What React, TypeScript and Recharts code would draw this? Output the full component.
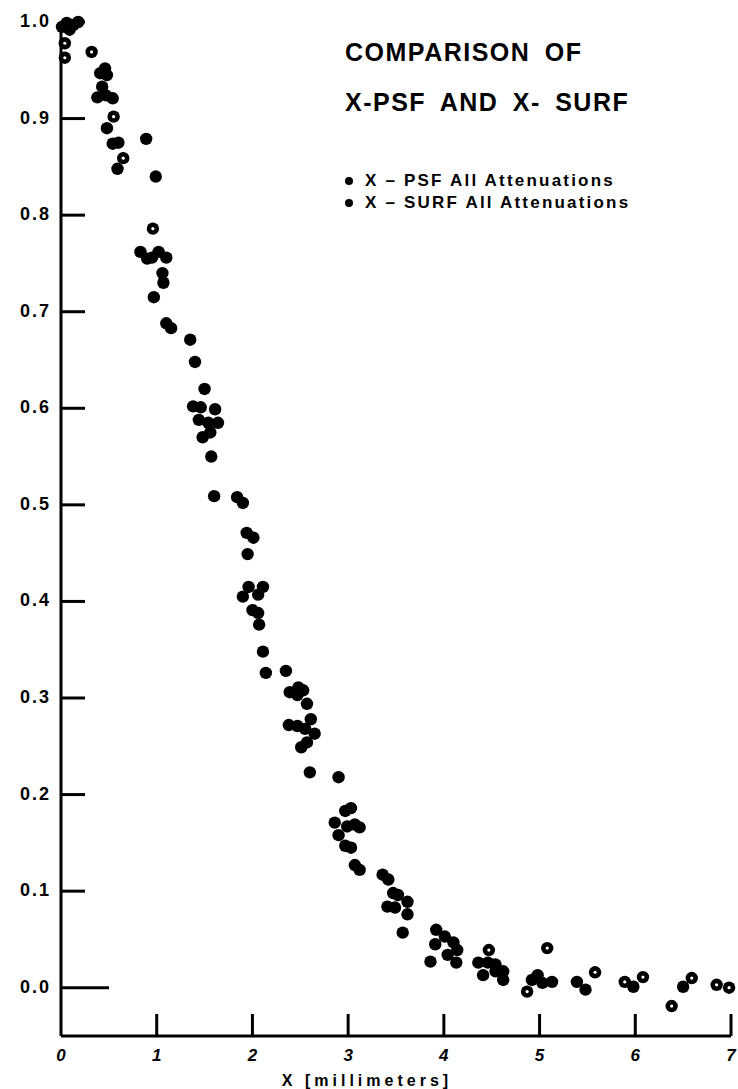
import { ScatterChart, Scatter, XAxis, YAxis, Legend } from 'recharts'

// ============================================
// Data
// ============================================

// points drawn with a small open centre
const psfX = [0.04, 0.04, 0.32, 0.55, 0.65, 0.96, 4.47, 5.08, 4.87, 5.58, 5.89, 6.08, 6.38, 6.59, 6.85, 6.98]
const psfY = [0.978, 0.963, 0.969, 0.902, 0.859, 0.786, 0.039, 0.041, -0.004, 0.016, 0.006, 0.011, -0.019, 0.01, 0.003, 0.0]

// solid points
const surfX = [
  0.01, 0.06, 0.13, 0.18, 0.09, 0.41, 0.46, 0.48, 0.43, 0.38, 0.54, 0.47, 0.48, 0.54, 0.6, 0.59,
  0.89, 0.99, 0.83, 0.9, 0.95, 1.02, 1.1, 1.06, 1.07, 0.97, 1.1, 1.15, 1.35, 1.4, 1.5, 1.38,
  1.46, 1.61, 1.44, 1.54, 1.64, 1.48, 1.56, 1.57, 1.6, 1.84, 1.9, 1.94, 2.01, 1.95, 1.96, 2.11,
  1.9, 2.06, 2.0, 2.06, 2.07, 2.11, 2.14, 2.35, 2.39, 2.48, 2.53, 2.47, 2.57, 2.61, 2.38, 2.47,
  2.55, 2.65, 2.51, 2.57, 2.6, 2.9, 2.97, 3.03, 2.86, 2.99, 3.07, 3.12, 2.9, 2.97, 3.03, 3.07,
  3.12, 3.36, 3.42, 3.47, 3.52, 3.62, 3.41, 3.49, 3.62, 3.57, 3.92, 4.01, 4.1, 3.91, 4.04, 4.14,
  3.86, 4.13, 4.36, 4.46, 4.54, 4.41, 4.62, 4.62, 4.54, 4.92, 4.98, 5.03, 5.13, 5.39, 5.48, 5.98,
  6.5,
]
const surfY = [
  0.995, 0.999, 0.997, 1.0, 0.992, 0.947, 0.952, 0.945, 0.933, 0.922, 0.921, 0.924, 0.89, 0.874, 0.875, 0.848,
  0.879, 0.84, 0.762, 0.755, 0.756, 0.762, 0.756, 0.74, 0.73, 0.715, 0.688, 0.683, 0.671, 0.648, 0.62, 0.602,
  0.601, 0.599, 0.588, 0.585, 0.585, 0.57, 0.575, 0.55, 0.509, 0.508, 0.502, 0.471, 0.466, 0.449, 0.415, 0.415,
  0.405, 0.407, 0.391, 0.388, 0.376, 0.348, 0.326, 0.328, 0.306, 0.311, 0.308, 0.303, 0.294, 0.278, 0.272, 0.271,
  0.268, 0.263, 0.249, 0.254, 0.223, 0.218, 0.183, 0.186, 0.171, 0.167, 0.169, 0.166, 0.158, 0.147, 0.145, 0.127,
  0.122, 0.117, 0.112, 0.098, 0.096, 0.089, 0.084, 0.083, 0.076, 0.057, 0.06, 0.053, 0.047, 0.045, 0.034, 0.039,
  0.027, 0.026, 0.026, 0.026, 0.024, 0.013, 0.017, 0.008, 0.017, 0.008, 0.013, 0.005, 0.006, 0.006, -0.002, 0.001,
  0.001,
]

const xTicks = [0, 1, 2, 3, 4, 5, 6, 7]
const yTicks = [0, 0.1, 0.2, 0.3, 0.4, 0.5, 0.6, 0.7, 0.8, 0.9, 1.0]
const legendLabels = ['X \u2013 PSF All Attenuations', 'X \u2013 SURF All Attenuations']

const psfData = psfX.map((x, i) => ({ x, y: psfY[i] }))
const surfData = surfX.map((x, i) => ({ x, y: surfY[i] }))

const FONT = '"Liberation Sans", Arial, sans-serif'

// ============================================
// Custom ticks (tick marks point into the plot)
// ============================================

function YTick({ x, y, payload }: any) {
  const len = payload.value === 0 ? 48 : 24
  return (
    <g>
      <line x1={x} y1={y} x2={x + len} y2={y} stroke="#000" strokeWidth={3} />
      <text
        x={x - 10}
        y={y}
        dy={5}
        textAnchor="end"
        fontFamily={FONT}
        fontWeight="bold"
        fontSize={18}
        letterSpacing={2}
        fill="#000"
      >
        {payload.value.toFixed(1)}
      </text>
    </g>
  )
}

function XTick({ x, y, payload }: any) {
  return (
    <g>
      {payload.value !== 0 && (
        <line x1={x} y1={y} x2={x} y2={y - 22} stroke="#000" strokeWidth={3} />
      )}
      <text
        x={x}
        y={y + 25}
        textAnchor="middle"
        fontFamily={FONT}
        fontWeight="bold"
        fontStyle="italic"
        fontSize={17}
        fill="#000"
      >
        {payload.value}
      </text>
    </g>
  )
}

function Dot({ cx, cy, open }: any) {
  return (
    <g>
      <circle cx={cx} cy={cy} r={6.2} fill="#000" />
      {open && <circle cx={cx} cy={cy} r={1.6} fill="#fff" />}
    </g>
  )
}

function CustomLegend() {
  return (
    <div style={{ fontFamily: FONT, fontWeight: 'bold', fontSize: 17, letterSpacing: 2.2 }}>
      {legendLabels.map((t) => (
        <div key={t} style={{ display: 'flex', alignItems: 'center', height: 22 }}>
          <span
            style={{ width: 8, height: 8, borderRadius: 4, background: '#000', marginRight: 12 }}
          />
          <span>{t}</span>
        </div>
      ))}
    </div>
  )
}

export default function App() {
  return (
    <div style={{ position: 'relative', width: 738, height: 1089, background: '#fff' }}>
      <style>{'body{margin:0}'}</style>
      <div
        style={{
          position: 'absolute',
          left: 345,
          top: 37,
          fontFamily: FONT,
          fontWeight: 'bold',
          fontSize: 25,
          letterSpacing: 1.5,
          wordSpacing: 6,
          whiteSpace: 'pre',
          zIndex: 1,
        }}
      >
        <div style={{ lineHeight: '30px' }}>COMPARISON OF</div>
        <div style={{ lineHeight: '30px', marginTop: 20 }}>X-PSF AND X- SURF</div>
      </div>
      <ScatterChart
        width={738}
        height={1089}
        margin={{ top: 22, right: 7, bottom: 13, left: 6 }}
      >
        <XAxis
          type="number"
          dataKey="x"
          domain={[0, 7]}
          ticks={xTicks}
          tick={<XTick />}
          tickLine={false}
          tickSize={0}
          tickMargin={0}
          height={40}
          axisLine={{ stroke: '#000', strokeWidth: 3 }}
          label={{
            value: 'X [millimeters]',
            position: 'insideBottom',
            offset: -10,
            fontFamily: FONT,
            fontWeight: 'bold',
            fontSize: 16,
            letterSpacing: 4,
            fill: '#000',
            dx: -29,
          }}
        />
        <YAxis
          type="number"
          dataKey="y"
          domain={[-0.05, 1.0]}
          ticks={yTicks}
          tick={<YTick />}
          tickLine={false}
          tickSize={0}
          tickMargin={0}
          width={55}
          axisLine={{ stroke: '#000', strokeWidth: 3 }}
        />
        <Legend
          content={<CustomLegend />}
          layout="vertical"
          align="center"
          verticalAlign="middle"
          wrapperStyle={{ top: 170, left: 345, width: 360 }}
        />
        <Scatter
          name="X-PSF All Attenuations"
          data={psfData}
          shape={(p: any) => <Dot {...p} open />}
          isAnimationActive={false}
        />
        <Scatter
          name="X-SURF All Attenuations"
          data={surfData}
          shape={(p: any) => <Dot {...p} />}
          isAnimationActive={false}
        />
      </ScatterChart>
    </div>
  )
}
